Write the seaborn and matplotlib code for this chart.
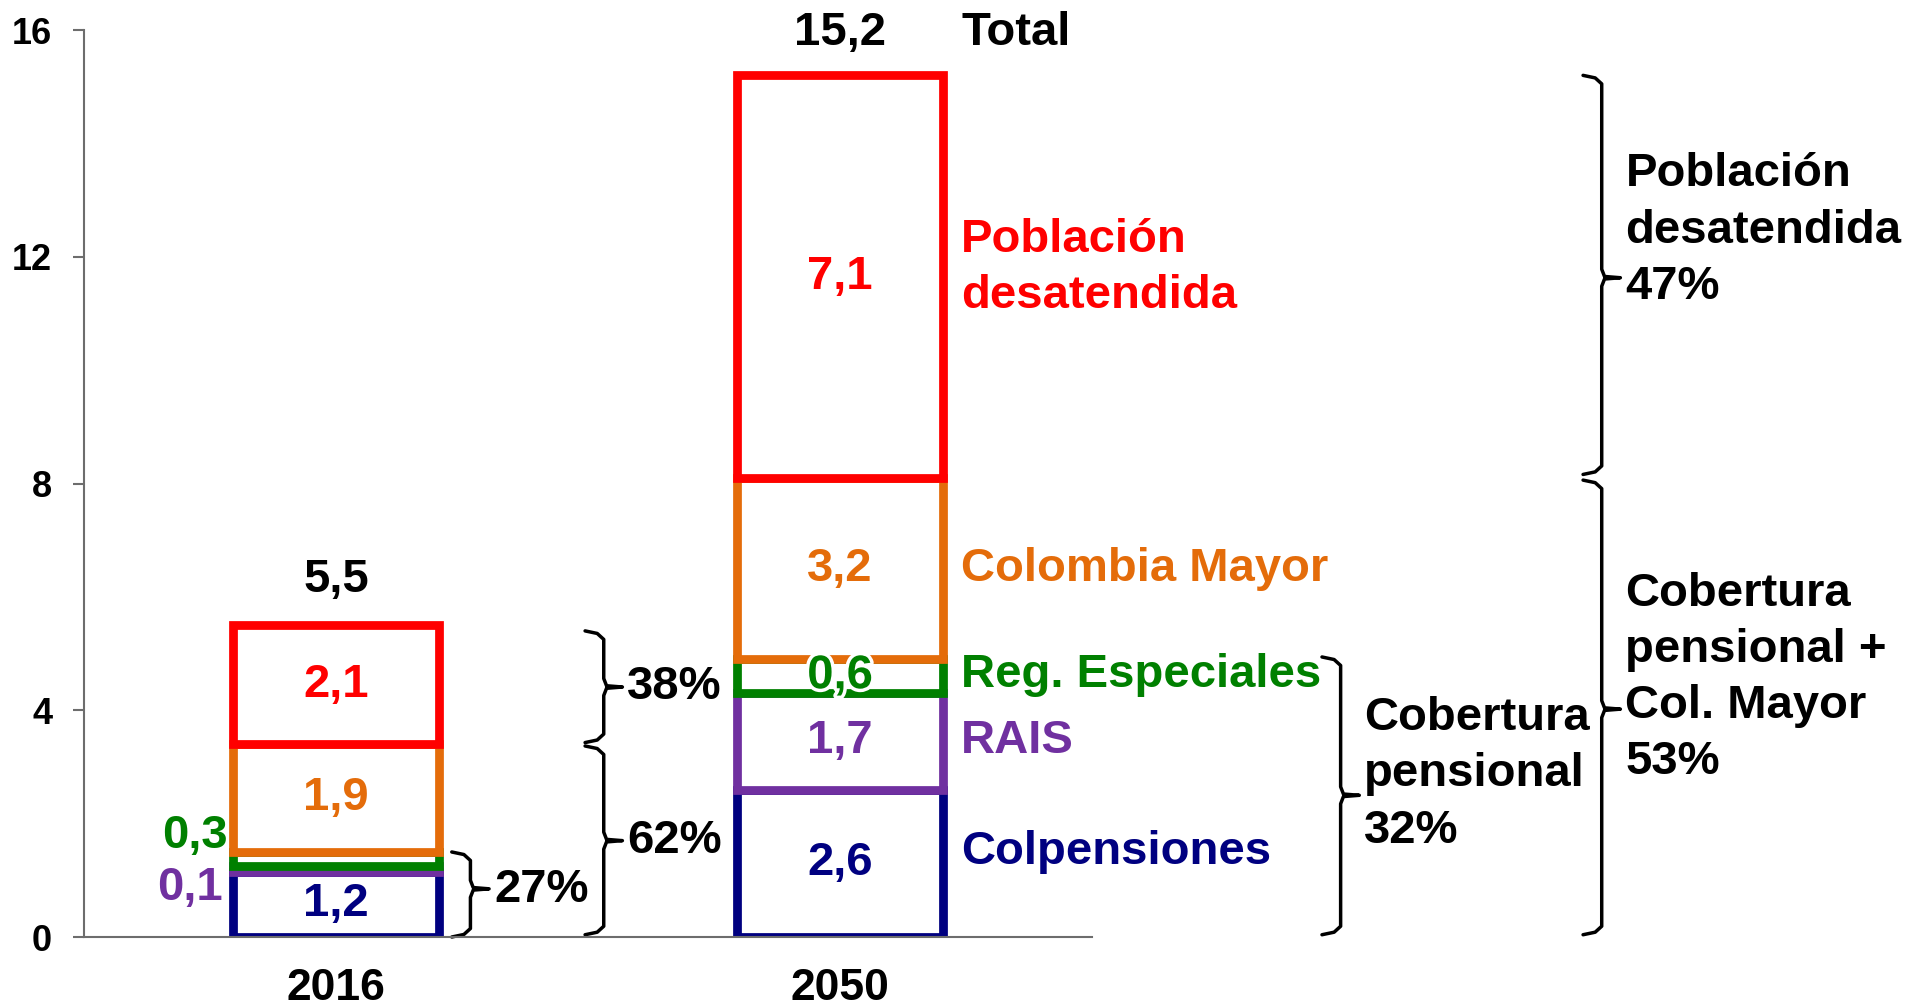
import matplotlib
matplotlib.use("Agg")
import matplotlib.pyplot as plt
import matplotlib.patheffects as pe
import numpy as np
import seaborn as sns

# datos (millones de personas)
years = ["2016", "2050"]
segments = ["Colpensiones", "RAIS", "Reg. Especiales", "Colombia Mayor", "Población\ndesatendida"]
values_2016 = [1.15, 0.1, 0.25, 1.9, 2.1]
values_2050 = [2.6, 1.7, 0.6, 3.2, 7.1]
labels_2016 = ["1,2", "0,1", "0,3", "1,9", "2,1"]
labels_2050 = ["2,6", "1,7", "0,6", "3,2", "7,1"]
totals = ["5,5", "15,2"]
colors = ["#000080", "#7030A0", "#008000", "#E46C0A", "#FF0000"]
y_ticks = [0, 4, 8, 12, 16]

sns.set_style("white")
plt.rcParams["font.family"] = ["Liberation Sans", "DejaVu Sans"]
plt.rcParams["font.weight"] = "bold"
plt.rcParams["text.color"] = "black"
plt.rcParams["xtick.color"] = "black"
plt.rcParams["ytick.color"] = "black"

fig = plt.figure(figsize=(19.33, 10.07), dpi=100)
ax = fig.add_axes([0.0435, 0.0695, 0.5215, 0.9007])

vals = np.array([values_2016, values_2050])
bottoms = np.hstack([np.zeros((2, 1)), np.cumsum(vals, axis=1)[:, :-1]])
tops = bottoms + vals

for i, seg in enumerate(segments):
    sns.barplot(x=years, y=vals[:, i], bottom=bottoms[:, i], color="white", saturation=1,
                edgecolor=colors[i], linewidth=6.3, width=0.41, ax=ax)

ax.set_xlim(-0.5, 1.5)
ax.set_ylim(0, 16)
ax.set_yticks(y_ticks)
ax.set_yticklabels([str(t) for t in y_ticks], fontsize=26, fontweight="bold")
ax.set_xticks([0, 1])
ax.set_xticklabels(years, fontsize=32, fontweight="bold")
ax.set_xticks([-0.5, 0.5, 1.5], minor=True)
ax.tick_params(axis="x", which="major", length=0, pad=22, labelcolor="black")
ax.tick_params(axis="x", which="minor", length=8.5, width=1.5, color="#6d6d6d", direction="out")
ax.tick_params(axis="y", length=8, width=1.5, color="#6d6d6d", direction="out", pad=15,
               left=True, labelcolor="black")
for side in ["top", "right"]:
    ax.spines[side].set_visible(False)
for side in ["left", "bottom"]:
    ax.spines[side].set_color("#6d6d6d")
    ax.spines[side].set_linewidth(1.5)
ax.set_xlabel("")
ax.set_ylabel("")

fs = 34
ls = 1.36
txt = dict(ha="center", va="center", fontsize=fs, fontweight="bold")

# etiquetas de segmentos
for i in range(len(segments)):
    c2050 = (bottoms[1, i] + tops[1, i]) / 2
    t = ax.text(1, c2050, labels_2050[i], color=colors[i], **txt)
    if i == 2:
        t.set_path_effects([pe.withStroke(linewidth=5, foreground="white")])
    if i in (1, 2):
        continue
    ax.text(0, (bottoms[0, i] + tops[0, i]) / 2, labels_2016[i], color=colors[i], **txt)
ax.text(-0.28, tops[0, 2] + 0.28, labels_2016[2], color=colors[2], **txt)
ax.text(-0.29, bottoms[0, 1] - 0.29, labels_2016[1], color=colors[1], **txt)

# totales
ax.text(0, tops[0, -1] + 0.8, totals[0], color="black", clip_on=False, **txt)
ax.text(1, 15.95, totals[1], color="black", clip_on=False, **txt)
ax.text(1.24, 15.95, "Total", ha="left", va="center", fontsize=fs, fontweight="bold", clip_on=False)

# nombres de segmentos a la derecha
name_y = (bottoms[1] + tops[1]) / 2 + np.array([0.2, 0.0, 0.03, 0.0, 0.15])
for i, seg in enumerate(segments):
    ax.text(1.24, name_y[i], seg, color=colors[i], ha="left", va="center", fontsize=fs,
            fontweight="bold", linespacing=ls, clip_on=False)


def brace(x, y0, y1, ytip, label, ty=None, w=0.037, d=0.15):
    xs = [x - w, x - 0.35 * w, x, x, x + 0.15 * w, x + w, x + 0.15 * w, x, x, x - 0.35 * w, x - w]
    ys = [y1, y1 - 0.3 * d, y1 - d, ytip + d, ytip + 0.15 * d, ytip, ytip - 0.15 * d, ytip - d,
          y0 + d, y0 + 0.3 * d, y0]
    ax.plot(xs, ys, color="black", lw=2.5, clip_on=False, solid_joinstyle="round")
    ax.text(x + w + 0.01, ytip if ty is None else ty, label, ha="left", va="center",
            fontsize=fs, fontweight="bold", linespacing=ls, clip_on=False)


brace(0.2665, 0.0, tops[0, 2], 0.85, "27%", ty=0.83)
brace(0.531, bottoms[0, 4] + 0.03, tops[0, 4] - 0.1, 4.41, "38%")
brace(0.531, 0.04, bottoms[0, 4] - 0.03, 1.7, "62%")
brace(1.993, 0.04, tops[1, 2] + 0.04, 2.5, "Cobertura\npensional\n32%", ty=2.87)
brace(2.511, bottoms[1, 4] + 0.06, tops[1, 4], 11.63, "Población\ndesatendida\n47%", ty=12.46)
brace(2.511, 0.04, bottoms[1, 4] - 0.04, 4.02, "Cobertura\npensional +\nCol. Mayor\n53%", ty=4.57)

fig.savefig("out.png", dpi=100)
